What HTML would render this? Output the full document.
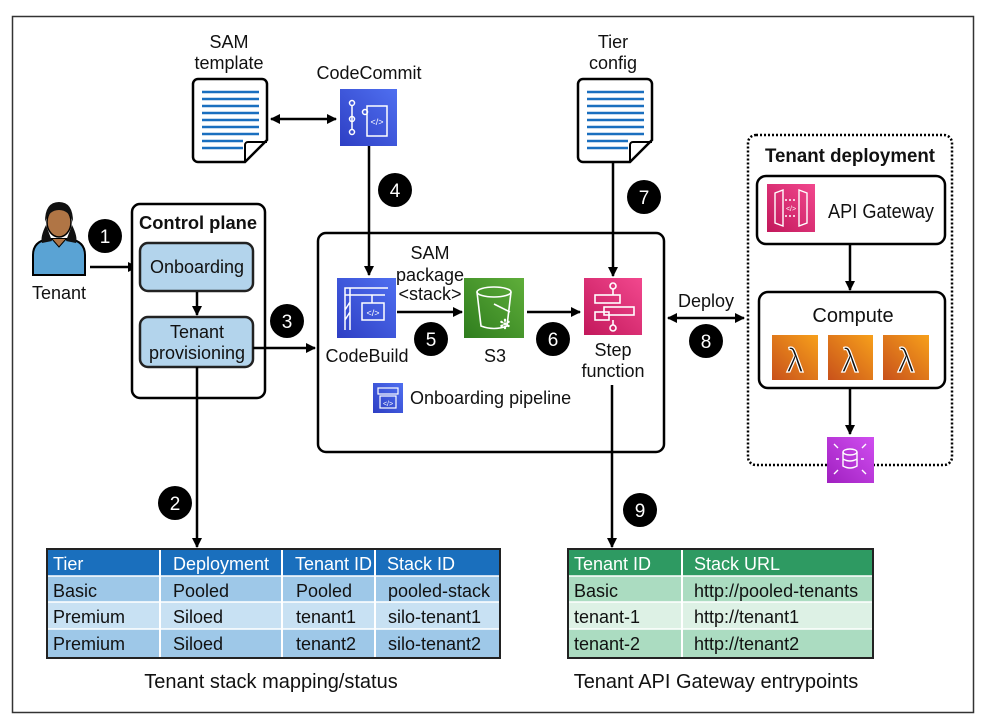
<!DOCTYPE html>
<html><head><meta charset="utf-8"><style>
html,body{margin:0;padding:0;background:#fff;}
svg{display:block;}
text{font-family:"Liberation Sans",sans-serif;fill:#111;}
</style></head><body>
<svg width="984" height="725" viewBox="0 0 984 725" xmlns="http://www.w3.org/2000/svg">
<defs>
<marker id="a" markerWidth="10" markerHeight="10" refX="9" refY="5" orient="auto-start-reverse" markerUnits="userSpaceOnUse"><path d="M0,0 L10,5 L0,10 z" fill="#000"/></marker>
<linearGradient id="gb" x1="0" y1="1" x2="1" y2="0"><stop offset="0" stop-color="#2e3fc4"/><stop offset="1" stop-color="#4f6ff0"/></linearGradient>
<linearGradient id="gg" x1="0" y1="1" x2="1" y2="0"><stop offset="0" stop-color="#2f7d1e"/><stop offset="1" stop-color="#5fae3a"/></linearGradient>
<linearGradient id="gp" x1="0" y1="1" x2="1" y2="0"><stop offset="0" stop-color="#c2185b"/><stop offset="1" stop-color="#f2488e"/></linearGradient>
<linearGradient id="go" x1="0" y1="1" x2="1" y2="0"><stop offset="0" stop-color="#c8511b"/><stop offset="1" stop-color="#f7a01b"/></linearGradient>
<linearGradient id="gm" x1="0" y1="1" x2="1" y2="0"><stop offset="0" stop-color="#a020c0"/><stop offset="1" stop-color="#d04ef0"/></linearGradient>
</defs>
<rect x="12.5" y="16.5" width="961" height="696" fill="none" stroke="#333" stroke-width="1.5"/>

<!-- SAM template doc -->
<text x="229" y="48" font-size="18" text-anchor="middle">SAM</text>
<text x="229" y="69" font-size="18" text-anchor="middle">template</text>
<path d="M198,79 H262 a5,5 0 0 1 5,5 V140 L245,162 H198 a5,5 0 0 1 -5,-5 V84 a5,5 0 0 1 5,-5z" fill="#fff" stroke="#000" stroke-width="2.5"/>
<path d="M245,162 V145 a3,3 0 0 1 3,-3 H267" fill="none" stroke="#000" stroke-width="2"/>
<g stroke="#1a6fbf" stroke-width="2.5">
<line x1="202" y1="92" x2="259" y2="92"/><line x1="202" y1="99" x2="259" y2="99"/><line x1="202" y1="106" x2="259" y2="106"/><line x1="202" y1="113" x2="259" y2="113"/><line x1="202" y1="120" x2="259" y2="120"/><line x1="202" y1="127" x2="259" y2="127"/><line x1="202" y1="134" x2="259" y2="134"/><line x1="202" y1="141" x2="243" y2="141"/><line x1="202" y1="148" x2="243" y2="148"/></g>

<!-- Tier config doc -->
<text x="613" y="48" font-size="18" text-anchor="middle">Tier</text>
<text x="613" y="69" font-size="18" text-anchor="middle">config</text>
<path d="M583,79 H647 a5,5 0 0 1 5,5 V140 L630,162 H583 a5,5 0 0 1 -5,-5 V84 a5,5 0 0 1 5,-5z" fill="#fff" stroke="#000" stroke-width="2.5"/>
<path d="M630,162 V145 a3,3 0 0 1 3,-3 H652" fill="none" stroke="#000" stroke-width="2"/>
<g stroke="#1a6fbf" stroke-width="2.5">
<line x1="587" y1="92" x2="644" y2="92"/><line x1="587" y1="99" x2="644" y2="99"/><line x1="587" y1="106" x2="644" y2="106"/><line x1="587" y1="113" x2="644" y2="113"/><line x1="587" y1="120" x2="644" y2="120"/><line x1="587" y1="127" x2="644" y2="127"/><line x1="587" y1="134" x2="644" y2="134"/><line x1="587" y1="141" x2="628" y2="141"/><line x1="587" y1="148" x2="628" y2="148"/></g>

<!-- CodeCommit -->
<text x="369" y="79" font-size="18" text-anchor="middle">CodeCommit</text>
<rect x="340" y="89" width="57" height="57" fill="url(#gb)"/>
<g stroke="#fff" stroke-width="1.5" fill="none"><circle cx="352" cy="103" r="2.5"/><circle cx="352" cy="119" r="2.5"/><circle cx="352" cy="132" r="2.5"/><line x1="352" y1="105" x2="352" y2="130"/><rect x="367" y="106" width="20" height="30"/><circle cx="365" cy="112" r="2.5"/></g>
<text x="377" y="125" font-size="9" text-anchor="middle" style="fill:#fff">&lt;/&gt;</text>
<line x1="271" y1="119" x2="336" y2="119" stroke="#000" stroke-width="2.5" marker-start="url(#a)" marker-end="url(#a)"/>
<line x1="369" y1="146" x2="369" y2="275" stroke="#000" stroke-width="2.5" marker-end="url(#a)"/>
<circle cx="395" cy="190" r="17" fill="#000"/><text x="395" y="197" font-size="19" text-anchor="middle" style="fill:#fff">4</text>

<!-- Tenant person -->
<path d="M33,275 V255 q0,-14 16,-16 h20 q16,2 16,16 V275z" fill="#5aa3d4" stroke="#000" stroke-width="2"/>
<path d="M46,225 q-6,12 -4,18 l10,-2z M72,225 q6,12 4,18 l-10,-2z" fill="#111"/>
<ellipse cx="59" cy="222" rx="12" ry="15" fill="#b07545" stroke="#000" stroke-width="1.5"/>
<path d="M45,222 q0,-20 14,-20 q14,0 14,20 q-4,-12 -14,-12 q-10,0 -14,12z" fill="#111"/>
<path d="M52,239 l7,8 l7,-8" fill="#b07545" stroke="#000" stroke-width="1"/>
<text x="59" y="299" font-size="18" text-anchor="middle">Tenant</text>
<circle cx="105" cy="236" r="17" fill="#000"/><text x="105" y="243" font-size="19" text-anchor="middle" style="fill:#fff">1</text>
<line x1="90" y1="267" x2="137" y2="267" stroke="#000" stroke-width="2.5" marker-end="url(#a)"/>

<!-- Control plane -->
<rect x="132" y="204" width="133" height="194" rx="8" fill="#fff" stroke="#000" stroke-width="2.5"/>
<text x="198" y="229" font-size="18" font-weight="bold" text-anchor="middle" textLength="118" lengthAdjust="spacingAndGlyphs">Control plane</text>
<rect x="140" y="243" width="113" height="48" rx="8" fill="#b3d4ec" stroke="#222" stroke-width="2.5"/>
<text x="197" y="273" font-size="18" text-anchor="middle">Onboarding</text>
<line x1="197" y1="292" x2="197" y2="315" stroke="#000" stroke-width="2.5" marker-end="url(#a)"/>
<rect x="140" y="317" width="113" height="50" rx="8" fill="#b3d4ec" stroke="#222" stroke-width="2.5"/>
<text x="197" y="338" font-size="18" text-anchor="middle">Tenant</text>
<text x="197" y="359" font-size="18" text-anchor="middle">provisioning</text>
<line x1="253" y1="348" x2="315" y2="348" stroke="#000" stroke-width="2.5" marker-end="url(#a)"/>
<circle cx="287" cy="321" r="17" fill="#000"/><text x="287" y="328" font-size="19" text-anchor="middle" style="fill:#fff">3</text>
<line x1="197" y1="367" x2="197" y2="547" stroke="#000" stroke-width="2.5" marker-end="url(#a)"/>
<circle cx="175" cy="503" r="17" fill="#000"/><text x="175" y="510" font-size="19" text-anchor="middle" style="fill:#fff">2</text>

<!-- Pipeline -->
<rect x="318" y="233" width="346" height="219" rx="8" fill="none" stroke="#000" stroke-width="2.5"/>
<rect x="337" y="278" width="59" height="60" fill="url(#gb)"/>
<g stroke="#fff" stroke-width="1.5" fill="none"><path d="M345,330 V288 H388 M345,295 h40 M350,288 v42 M345,310 l5,-8 M345,320 l5,-8"/><line x1="372" y1="295" x2="372" y2="303"/><rect x="362" y="303" width="22" height="17"/></g>
<text x="373" y="316" font-size="9" text-anchor="middle" style="fill:#fff">&lt;/&gt;</text>
<text x="367" y="362" font-size="18" text-anchor="middle">CodeBuild</text>
<text x="430" y="259" font-size="18" text-anchor="middle">SAM</text>
<text x="430" y="281" font-size="18" text-anchor="middle">package</text>
<text x="430" y="300" font-size="18" text-anchor="middle">&lt;stack&gt;</text>
<line x1="397" y1="312" x2="462" y2="312" stroke="#000" stroke-width="2.5" marker-end="url(#a)"/>
<circle cx="431" cy="339" r="17" fill="#000"/><text x="431" y="346" font-size="19" text-anchor="middle" style="fill:#fff">5</text>
<rect x="464" y="278" width="60" height="60" fill="url(#gg)"/>
<g stroke="#fff" stroke-width="1.6" fill="none"><ellipse cx="494" cy="292" rx="17" ry="5"/><path d="M477,292 L481,326 q13,5 26,0 L511,292"/><path d="M494,304 l16,8"/></g>
<text x="505" y="329" font-size="14" text-anchor="middle" style="fill:#fff">✻</text>
<text x="495" y="362" font-size="18" text-anchor="middle">S3</text>
<line x1="527" y1="312" x2="580" y2="312" stroke="#000" stroke-width="2.5" marker-end="url(#a)"/>
<circle cx="553" cy="339" r="17" fill="#000"/><text x="553" y="346" font-size="19" text-anchor="middle" style="fill:#fff">6</text>
<rect x="584" y="278" width="58" height="57" fill="url(#gp)"/>
<g stroke="#fff" stroke-width="1.6" fill="none"><circle cx="613" cy="286" r="3"/><line x1="613" y1="289" x2="613" y2="295"/><rect x="595" y="295" width="25" height="8"/><rect x="604" y="307" width="30" height="8"/><rect x="595" y="312" width="14" height="8"/><line x1="613" y1="320" x2="613" y2="325"/><circle cx="613" cy="328" r="3"/></g>
<text x="613" y="356" font-size="18" text-anchor="middle">Step</text>
<text x="613" y="377" font-size="18" text-anchor="middle">function</text>
<line x1="613" y1="162" x2="613" y2="276" stroke="#000" stroke-width="2.5" marker-end="url(#a)"/>
<circle cx="644" cy="197" r="17" fill="#000"/><text x="644" y="204" font-size="19" text-anchor="middle" style="fill:#fff">7</text>
<rect x="373" y="383" width="30" height="30" fill="url(#gb)"/>
<g stroke="#fff" stroke-width="1.2" fill="none"><rect x="378" y="388" width="20" height="6"/><rect x="380" y="396" width="16" height="12"/></g>
<text x="388" y="406" font-size="7" text-anchor="middle" style="fill:#fff">&lt;/&gt;</text>
<text x="410" y="404" font-size="18">Onboarding pipeline</text>
<line x1="612" y1="385" x2="612" y2="547" stroke="#000" stroke-width="2.5" marker-end="url(#a)"/>
<circle cx="640" cy="510" r="17" fill="#000"/><text x="640" y="517" font-size="19" text-anchor="middle" style="fill:#fff">9</text>

<!-- Deploy -->
<text x="706" y="307" font-size="18" text-anchor="middle">Deploy</text>
<line x1="668" y1="318" x2="744" y2="318" stroke="#000" stroke-width="2.5" marker-start="url(#a)" marker-end="url(#a)"/>
<circle cx="706" cy="341" r="17" fill="#000"/><text x="706" y="348" font-size="19" text-anchor="middle" style="fill:#fff">8</text>

<!-- Tenant deployment -->
<rect x="748" y="135" width="204" height="330" rx="8" fill="none" stroke="#000" stroke-width="2.5" stroke-dasharray="2,2"/>
<text x="850" y="162" font-size="19" font-weight="bold" text-anchor="middle" textLength="170" lengthAdjust="spacingAndGlyphs">Tenant deployment</text>
<rect x="757" y="176" width="188" height="68" rx="9" fill="#fff" stroke="#000" stroke-width="2.5"/>
<rect x="767" y="184" width="48" height="48" fill="url(#gp)"/>
<g stroke="#fff" stroke-width="1.4" fill="none"><path d="M775,193 l8,-3 v36 l-8,-3z M807,193 l-8,-3 v36 l8,-3z"/><path d="M785,200 h12 M785,216 h12" stroke-dasharray="2,2"/></g>
<text x="791" y="211" font-size="7" text-anchor="middle" style="fill:#fff">&lt;/&gt;</text>
<text x="828" y="218" font-size="20" textLength="106" lengthAdjust="spacingAndGlyphs">API Gateway</text>
<line x1="850" y1="244" x2="850" y2="290" stroke="#000" stroke-width="2.5" marker-end="url(#a)"/>
<rect x="759" y="292" width="186" height="96" rx="9" fill="#fff" stroke="#000" stroke-width="2.5"/>
<text x="853" y="322" font-size="20" text-anchor="middle">Compute</text>
<rect x="772" y="335" width="46" height="45" fill="url(#go)"/>
<rect x="828" y="335" width="45" height="45" fill="url(#go)"/>
<rect x="883" y="335" width="46" height="45" fill="url(#go)"/>
<g font-size="34" text-anchor="middle" style="fill:none;stroke:#fff;stroke-width:1.2"><text x="795" y="372">λ</text><text x="850" y="372">λ</text><text x="906" y="372">λ</text></g>
<line x1="850" y1="388" x2="850" y2="434" stroke="#000" stroke-width="2.5" marker-end="url(#a)"/>
<rect x="827" y="437" width="47" height="46" fill="url(#gm)"/>
<g stroke="#fff" stroke-width="1.4" fill="none"><ellipse cx="850" cy="452" rx="7" ry="3"/><path d="M843,452 v14 q7,4 14,0 v-14 M843,459 q7,4 14,0"/><path d="M836,459 h3 M861,459 h3 M834,444 l4,4 M866,444 l-4,4 M834,474 l4,-4 M866,474 l-4,-4"/></g>

<!-- Left table -->
<g>
<rect x="47" y="549" width="453" height="27" fill="#1a6fbd"/>
<rect x="47" y="576" width="453" height="26" fill="#9ec8e8"/>
<rect x="47" y="602" width="453" height="27" fill="#c8e1f3"/>
<rect x="47" y="629" width="453" height="29" fill="#9ec8e8"/>
<g stroke="#fff" stroke-width="2"><line x1="160" y1="549" x2="160" y2="658"/><line x1="282" y1="549" x2="282" y2="658"/><line x1="375" y1="549" x2="375" y2="658"/><line x1="47" y1="576" x2="500" y2="576" stroke-width="1.5"/><line x1="47" y1="602" x2="500" y2="602" stroke-width="1.5"/><line x1="47" y1="629" x2="500" y2="629" stroke-width="1.5"/></g>
<rect x="47" y="549" width="453" height="109" fill="none" stroke="#222" stroke-width="2"/>
<text x="53" y="570" font-size="18" style="fill:#fff">Tier</text><text x="173" y="570" font-size="18" style="fill:#fff">Deployment</text><text x="295" y="570" font-size="18" style="fill:#fff">Tenant ID</text><text x="387" y="570" font-size="18" style="fill:#fff">Stack ID</text>
<g font-size="18"><text x="53" y="597">Basic</text><text x="173" y="597">Pooled</text><text x="296" y="597">Pooled</text><text x="388" y="597">pooled-stack</text>
<text x="53" y="623">Premium</text><text x="173" y="623">Siloed</text><text x="296" y="623">tenant1</text><text x="388" y="623">silo-tenant1</text>
<text x="53" y="650">Premium</text><text x="173" y="650">Siloed</text><text x="296" y="650">tenant2</text><text x="388" y="650">silo-tenant2</text></g>
<text x="271" y="688" font-size="20" text-anchor="middle">Tenant stack mapping/status</text>
</g>

<!-- Right table -->
<g>
<rect x="568" y="549" width="305" height="27" fill="#2e9a62"/>
<rect x="568" y="576" width="305" height="26" fill="#abdcc1"/>
<rect x="568" y="602" width="305" height="27" fill="#ddf1e5"/>
<rect x="568" y="629" width="305" height="29" fill="#abdcc1"/>
<g stroke="#fff" stroke-width="2"><line x1="682" y1="549" x2="682" y2="658"/><line x1="568" y1="576" x2="873" y2="576" stroke-width="1.5"/><line x1="568" y1="602" x2="873" y2="602" stroke-width="1.5"/><line x1="568" y1="629" x2="873" y2="629" stroke-width="1.5"/></g>
<rect x="568" y="549" width="305" height="109" fill="none" stroke="#222" stroke-width="2"/>
<text x="574" y="570" font-size="18" style="fill:#fff">Tenant ID</text><text x="694" y="570" font-size="18" style="fill:#fff">Stack URL</text>
<g font-size="18"><text x="574" y="597">Basic</text><text x="694" y="597">http://pooled-tenants</text>
<text x="574" y="623">tenant-1</text><text x="694" y="623">http://tenant1</text>
<text x="574" y="650">tenant-2</text><text x="694" y="650">http://tenant2</text></g>
<text x="716" y="688" font-size="20" text-anchor="middle">Tenant API Gateway entrypoints</text>
</g>
</svg>
</body></html>
